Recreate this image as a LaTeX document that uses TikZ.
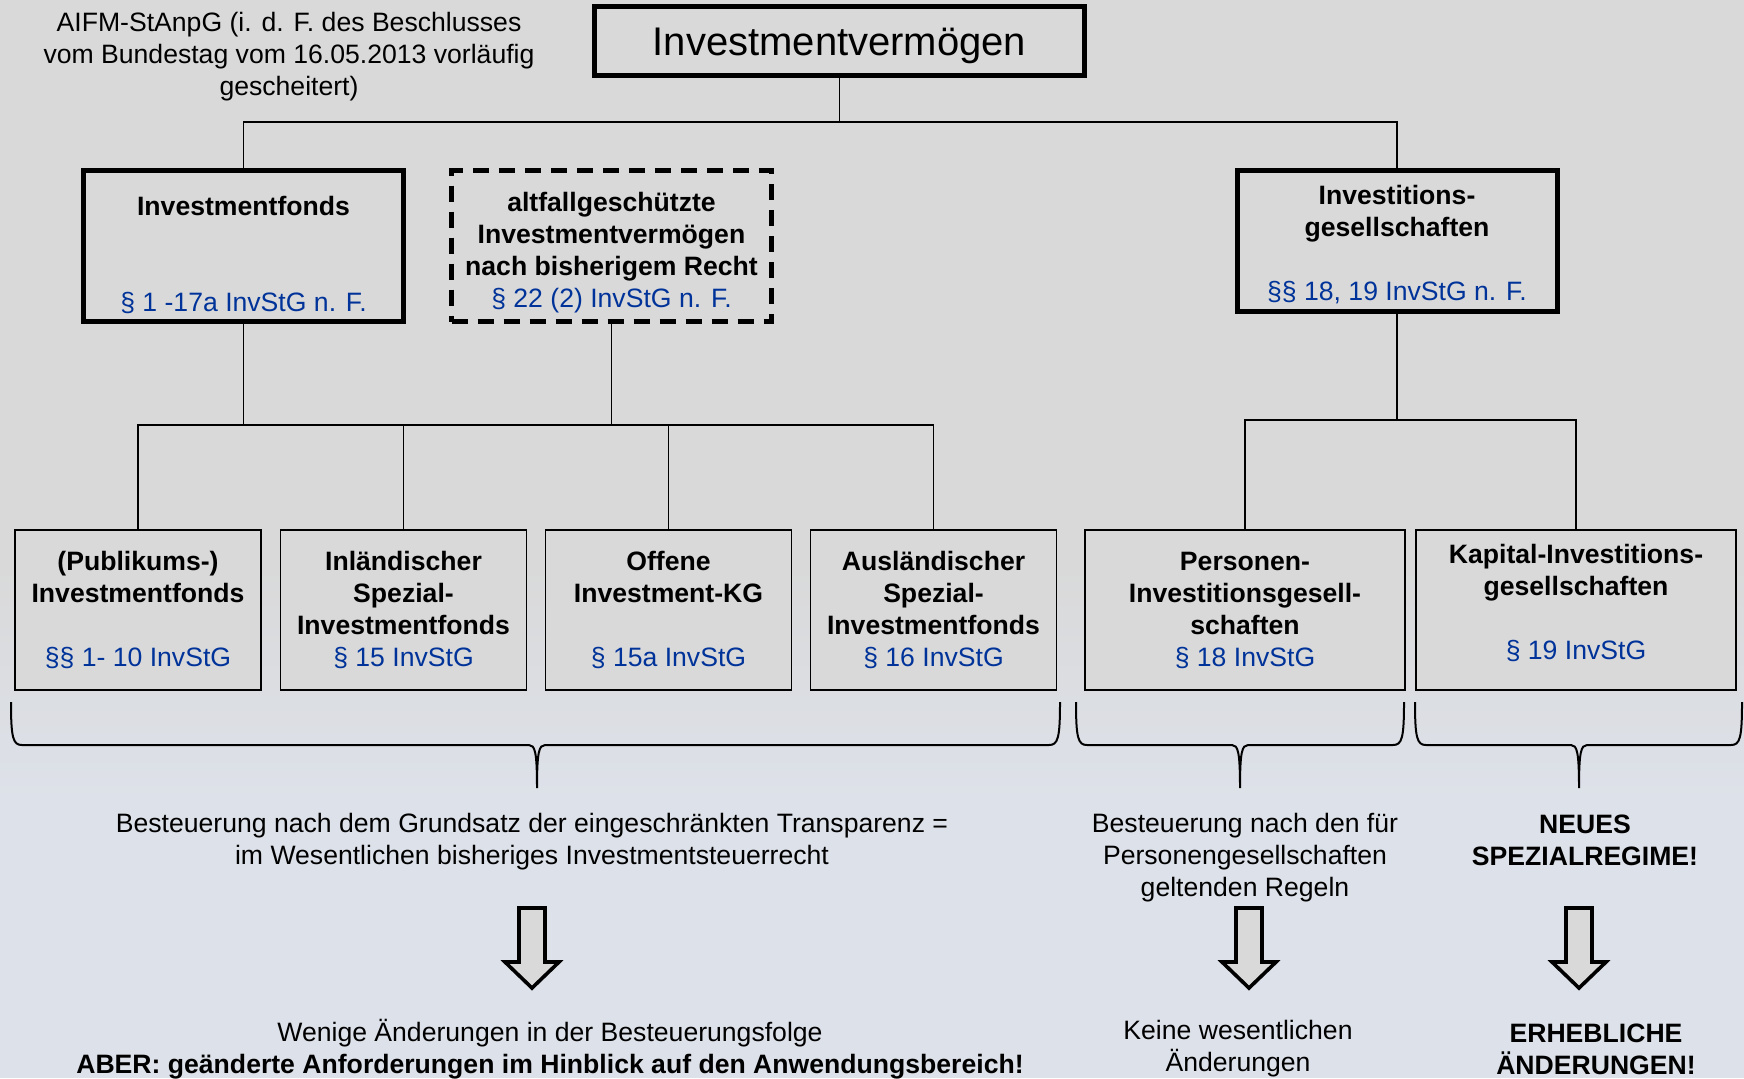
\documentclass[tikz,border=0pt]{standalone}
\usepackage{fontspec}
\setmainfont{Liberation Sans}
\usetikzlibrary{positioning}
\definecolor{ParaBlue}{RGB}{0,51,153}
\definecolor{BoxGray}{RGB}{217,217,217}
\definecolor{PaleBlue}{RGB}{221,225,233}

\newcommand{\para}[1]{\textcolor{ParaBlue}{#1}}
\newcommand{\topstrut}[1]{\rule{0pt}{#1}}
% curly bracket: left end, tip, right end
\newcommand{\klammer}[3]{%
  \draw[bracket] (#1,702) .. controls (#1,738) and (#1+2,745) .. (#1+11,745) -- (#2-8,745)
    .. controls (#2-2,745) and (#2,752) .. (#2,788)
    .. controls (#2,752) and (#2+2,745) .. (#2+8,745) -- (#3-11,745)
    .. controls (#3-2,745) and (#3,738) .. (#3,702);}
% hollow block arrow pointing down
\newcommand{\pfeil}[1]{%
  \draw[bigarrow] (#1-13,908) -- (#1+13,908) -- (#1+13,962) -- (#1+27,962)
    -- (#1,988) -- (#1-27,962) -- (#1-13,962) -- cycle;}

\begin{document}
\begin{tikzpicture}[x=0.5pt,y=-0.5pt,
    every node/.style={font=\fontsize{13.3}{16}\selectfont, align=center},
    mainbox/.style={draw, line width=2.5pt, fill=BoxGray, inner sep=0pt,
      minimum width=245pt, minimum height=34.5pt},
    groupbox/.style={draw, line width=2.5pt, fill=BoxGray, inner sep=0pt,
      minimum width=160pt, minimum height=75.5pt},
    leafbox/.style={draw, line width=0.8pt, fill=BoxGray, inner sep=0pt,
      minimum width=123pt, minimum height=80pt},
    link/.style={line width=0.75pt},
    bracket/.style={line width=1pt},
    bigarrow/.style={draw, line width=1.8pt, fill=BoxGray, miter limit=10}]

    % background
    \fill[BoxGray] (0,0) rectangle (1744,1078);
    \shade[top color=BoxGray, bottom color=PaleBlue] (0,560) rectangle (1744,800);
    \fill[PaleBlue] (0,799) rectangle (1744,1078);
    \useasboundingbox (0,0) rectangle (1744,1078);

    % top level
    \node[mainbox, font=\fontsize{20}{24}\selectfont] (iv) at (839.5,41) {\topstrut{18.8pt}Investmentvermögen};
    \node (aifm) at (289,57) {AIFM-StAnpG (i. d. F. des Beschlusses\\vom Bundestag vom 16.05.2013 vorläufig\\gescheitert)};

    % second level
    \node[groupbox] (fonds) at (243.5,246) {\topstrut{18.6pt}\textbf{Investmentfonds}\\[32pt]\para{§ 1 -17a InvStG n. F.}};
    \node[groupbox, dash pattern=on 8pt off 5pt] (alt) at (611.5,246)
      {\topstrut{16.4pt}\textbf{altfallgeschützte}\\\textbf{Investmentvermögen}\\\textbf{nach bisherigem Recht}\\\para{§ 22 (2) InvStG n. F.}};
    \node[groupbox, minimum height=70.5pt] (inv) at (1397,241)
      {\topstrut{13pt}\textbf{Investitions-}\\\textbf{gesellschaften}\\[16pt]\para{§§ 18, 19 InvStG n. F.}};

    % third level
    \node[leafbox] (pub) at (138,610) {\textbf{(Publikums-)}\\\textbf{Investmentfonds}\\[16pt]\para{§§ 1- 10 InvStG}};
    \node[leafbox] (spez) at (403.5,610) {\textbf{Inländischer}\\\textbf{Spezial-}\\\textbf{Investmentfonds}\\\para{§ 15 InvStG}};
    \node[leafbox] (kg) at (668.5,610) {\textbf{Offene}\\\textbf{Investment-KG}\\[16pt]\para{§ 15a InvStG}};
    \node[leafbox] (ausl) at (933.5,610) {\textbf{Ausländischer}\\\textbf{Spezial-}\\\textbf{Investmentfonds}\\\para{§ 16 InvStG}};
    \node[leafbox, minimum width=160pt] (pers) at (1245,610)
      {\textbf{Personen-}\\\textbf{Investitionsgesell-}\\\textbf{schaften}\\\para{§ 18 InvStG}};
    \node[leafbox, minimum width=160pt] (kap) at (1576,610)
      {\textbf{Kapital-Investitions-}\\\textbf{gesellschaften}\\[16pt]\para{§ 19 InvStG}\\[-8pt]\mbox{}};

    % tree lines
    \draw[link] (iv.south) |- (fonds.north |- 0,122) -- (fonds.north);
    \draw[link] (iv.south) |- (inv.north |- 0,122) -- (inv.north);
    \draw[link] (fonds.south) -- (fonds.south |- 0,425);
    \draw[link] (alt.south) -- (alt.south |- 0,425);
    \draw[link] (pub.north) |- (ausl.north |- 0,425) -- (ausl.north);
    \draw[link] (spez.north) -- (spez.north |- 0,425);
    \draw[link] (kg.north) -- (kg.north |- 0,425);
    \draw[link] (inv.south) -- (inv.south |- 0,420);
    \draw[link] (pers.north) |- (kap.north |- 0,420) -- (kap.north);

    % brackets
    \klammer{11}{537}{1060}
    \klammer{1076}{1240}{1404}
    \klammer{1415}{1579}{1742}

    % taxation
    \node (tax1) at (532,842) {Besteuerung nach dem Grundsatz der eingeschränkten Transparenz =\\im Wesentlichen bisheriges Investmentsteuerrecht};
    \node (tax2) at (1245,858) {Besteuerung nach den für\\Personengesellschaften\\geltenden Regeln};
    \node (tax3) at (1585,840) {\textbf{NEUES}\\\textbf{SPEZIALREGIME!}};

    \pfeil{532}
    \pfeil{1249}
    \pfeil{1579}

    % consequences
    \node (res1) at (550,1049) {Wenige Änderungen in der Besteuerungsfolge\\\textbf{ABER: geänderte Anforderungen im Hinblick auf den Anwendungsbereich!}};
    \node (res2) at (1238,1049) {Keine wesentlichen\\Änderungen};
    \node (res3) at (1596,1049) {\textbf{ERHEBLICHE}\\\textbf{ÄNDERUNGEN!}};
\end{tikzpicture}
\end{document}
